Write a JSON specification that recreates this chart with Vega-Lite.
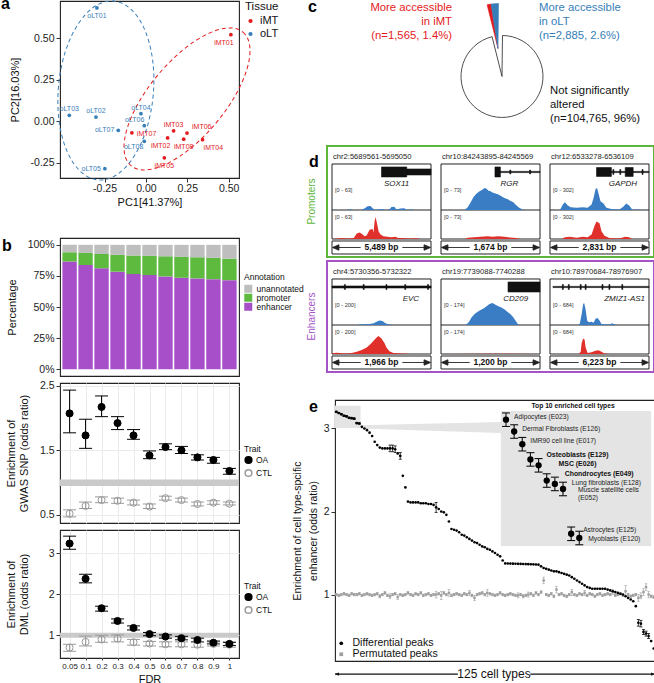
{
"$schema": "https://vega.github.io/schema/vega-lite/v6.json",
"padding": {"top": -5, "left": 0, "right": 0, "bottom": 0},
"background": "white",
"config": {
 "font": "Liberation Sans",
 "locale": {"number": {"decimal": ".", "thousands": ",", "grouping": [3], "currency": ["$", ""], "minus": "-"}},
 "view": {"stroke": "#222", "strokeWidth": 1.1},
 "axis": {"domain": false, "grid": false, "labelColor": "#222", "titleColor": "#111", "tickColor": "#333", "tickSize": 4, "labelFontSize": 10.5, "titleFontSize": 11, "titleFontWeight": "normal", "labelPadding": 2},
 "legend": {"titleFontWeight": "normal", "labelColor": "#111", "titleColor": "#111"},
 "title": {"fontSize": 16, "fontWeight": "bold", "anchor": "start", "frame": "group", "color": "#000", "offset": 0}
},
"datasets": {
 "pca": [
  {"sample":"iMT01","tissue":"iMT","PC1":0.513,"PC2":0.523},
  {"sample":"iMT02","tissue":"iMT","PC1":0.131,"PC2":-0.100},
  {"sample":"iMT03","tissue":"iMT","PC1":0.167,"PC2":-0.057},
  {"sample":"iMT04","tissue":"iMT","PC1":0.342,"PC2":-0.111},
  {"sample":"iMT05","tissue":"iMT","PC1":0.111,"PC2":-0.220},
  {"sample":"iMT06","tissue":"iMT","PC1":0.248,"PC2":-0.071},
  {"sample":"iMT07","tissue":"iMT","PC1":-0.085,"PC2":-0.069},
  {"sample":"iMT08","tissue":"iMT","PC1":0.228,"PC2":-0.108},
  {"sample":"oLT01","tissue":"oLT","PC1":-0.296,"PC2":0.684},
  {"sample":"oLT02","tissue":"oLT","PC1":-0.302,"PC2":0.026},
  {"sample":"oLT03","tissue":"oLT","PC1":-0.463,"PC2":0.036},
  {"sample":"oLT04","tissue":"oLT","PC1":-0.030,"PC2":0.046},
  {"sample":"oLT05","tissue":"oLT","PC1":-0.248,"PC2":-0.286},
  {"sample":"oLT06","tissue":"oLT","PC1":-0.010,"PC2":-0.026},
  {"sample":"oLT07","tissue":"oLT","PC1":-0.167,"PC2":-0.054},
  {"sample":"oLT08","tissue":"oLT","PC1":-0.010,"PC2":-0.121}
 ],
 "ellipses": [{"tissue":"oLT","PC1":-0.242,"PC2":0.186},{"tissue":"iMT","PC1":0.248,"PC2":0.135}],
 "anno": [
  {"fdr":"0.05","annotation":"enhancer","frac":0.865},{"fdr":"0.05","annotation":"promoter","frac":0.076},{"fdr":"0.05","annotation":"unannotated","frac":0.059},
  {"fdr":"0.1","annotation":"enhancer","frac":0.838},{"fdr":"0.1","annotation":"promoter","frac":0.097},{"fdr":"0.1","annotation":"unannotated","frac":0.065},
  {"fdr":"0.2","annotation":"enhancer","frac":0.811},{"fdr":"0.2","annotation":"promoter","frac":0.116},{"fdr":"0.2","annotation":"unannotated","frac":0.073},
  {"fdr":"0.3","annotation":"enhancer","frac":0.784},{"fdr":"0.3","annotation":"promoter","frac":0.135},{"fdr":"0.3","annotation":"unannotated","frac":0.081},
  {"fdr":"0.4","annotation":"enhancer","frac":0.765},{"fdr":"0.4","annotation":"promoter","frac":0.149},{"fdr":"0.4","annotation":"unannotated","frac":0.086},
  {"fdr":"0.5","annotation":"enhancer","frac":0.757},{"fdr":"0.5","annotation":"promoter","frac":0.154},{"fdr":"0.5","annotation":"unannotated","frac":0.089},
  {"fdr":"0.6","annotation":"enhancer","frac":0.746},{"fdr":"0.6","annotation":"promoter","frac":0.162},{"fdr":"0.6","annotation":"unannotated","frac":0.092},
  {"fdr":"0.7","annotation":"enhancer","frac":0.735},{"fdr":"0.7","annotation":"promoter","frac":0.168},{"fdr":"0.7","annotation":"unannotated","frac":0.097},
  {"fdr":"0.8","annotation":"enhancer","frac":0.730},{"fdr":"0.8","annotation":"promoter","frac":0.170},{"fdr":"0.8","annotation":"unannotated","frac":0.100},
  {"fdr":"0.9","annotation":"enhancer","frac":0.724},{"fdr":"0.9","annotation":"promoter","frac":0.171},{"fdr":"0.9","annotation":"unannotated","frac":0.105},
  {"fdr":"1","annotation":"enhancer","frac":0.716},{"fdr":"1","annotation":"promoter","frac":0.173},{"fdr":"1","annotation":"unannotated","frac":0.111}
 ],
 "gwas": [
  {"fdr":"0.05","trait":"CTL","or":0.52,"lo":0.47,"hi":0.58},{"fdr":"0.1","trait":"CTL","or":0.64,"lo":0.60,"hi":0.70},{"fdr":"0.2","trait":"CTL","or":0.73,"lo":0.69,"hi":0.78},{"fdr":"0.3","trait":"CTL","or":0.72,"lo":0.68,"hi":0.76},{"fdr":"0.4","trait":"CTL","or":0.69,"lo":0.655,"hi":0.73},{"fdr":"0.5","trait":"CTL","or":0.63,"lo":0.60,"hi":0.67},{"fdr":"0.6","trait":"CTL","or":0.76,"lo":0.73,"hi":0.79},{"fdr":"0.7","trait":"CTL","or":0.73,"lo":0.70,"hi":0.76},{"fdr":"0.8","trait":"CTL","or":0.67,"lo":0.64,"hi":0.70},{"fdr":"0.9","trait":"CTL","or":0.69,"lo":0.665,"hi":0.72},{"fdr":"1","trait":"CTL","or":0.675,"lo":0.655,"hi":0.70},
  {"fdr":"0.05","trait":"OA","or":2.07,"lo":1.77,"hi":2.43},{"fdr":"0.1","trait":"OA","or":1.73,"lo":1.53,"hi":1.98},{"fdr":"0.2","trait":"OA","or":2.17,"lo":2.02,"hi":2.34},{"fdr":"0.3","trait":"OA","or":1.92,"lo":1.82,"hi":2.02},{"fdr":"0.4","trait":"OA","or":1.73,"lo":1.67,"hi":1.82},{"fdr":"0.5","trait":"OA","or":1.42,"lo":1.37,"hi":1.49},{"fdr":"0.6","trait":"OA","or":1.55,"lo":1.51,"hi":1.60},{"fdr":"0.7","trait":"OA","or":1.50,"lo":1.45,"hi":1.56},{"fdr":"0.8","trait":"OA","or":1.39,"lo":1.35,"hi":1.43},{"fdr":"0.9","trait":"OA","or":1.35,"lo":1.30,"hi":1.39},{"fdr":"1","trait":"OA","or":1.18,"lo":1.13,"hi":1.22}
 ],
 "dml": [
  {"fdr":"0.05","trait":"CTL","or":0.70,"lo":0.61,"hi":0.78},{"fdr":"0.1","trait":"CTL","or":0.84,"lo":0.74,"hi":0.98},{"fdr":"0.2","trait":"CTL","or":0.90,"lo":0.83,"hi":1.00},{"fdr":"0.3","trait":"CTL","or":0.92,"lo":0.84,"hi":1.01},{"fdr":"0.4","trait":"CTL","or":0.83,"lo":0.76,"hi":0.90},{"fdr":"0.5","trait":"CTL","or":0.80,"lo":0.74,"hi":0.85},{"fdr":"0.6","trait":"CTL","or":0.78,"lo":0.72,"hi":0.84},{"fdr":"0.7","trait":"CTL","or":0.78,"lo":0.72,"hi":0.84},{"fdr":"0.8","trait":"CTL","or":0.77,"lo":0.71,"hi":0.83},{"fdr":"0.9","trait":"CTL","or":0.79,"lo":0.74,"hi":0.84},{"fdr":"1","trait":"CTL","or":0.77,"lo":0.71,"hi":0.83},
  {"fdr":"0.05","trait":"OA","or":3.24,"lo":3.10,"hi":3.42},{"fdr":"0.1","trait":"OA","or":2.38,"lo":2.28,"hi":2.49},{"fdr":"0.2","trait":"OA","or":1.66,"lo":1.59,"hi":1.71},{"fdr":"0.3","trait":"OA","or":1.35,"lo":1.30,"hi":1.40},{"fdr":"0.4","trait":"OA","or":1.18,"lo":1.13,"hi":1.23},{"fdr":"0.5","trait":"OA","or":1.03,"lo":0.99,"hi":1.07},{"fdr":"0.6","trait":"OA","or":0.97,"lo":0.93,"hi":1.01},{"fdr":"0.7","trait":"OA","or":0.93,"lo":0.89,"hi":0.975},{"fdr":"0.8","trait":"OA","or":0.885,"lo":0.84,"hi":0.93},{"fdr":"0.9","trait":"OA","or":0.82,"lo":0.79,"hi":0.86},{"fdr":"1","trait":"OA","or":0.79,"lo":0.75,"hi":0.83}
 ],
 "pie": [
  {"status":"iMT","n":1565,"label":"More accessible\nin iMT\n(n=1,565, 1.4%)"},
  {"status":"oLT","n":2885,"label":"More accessible\nin oLT\n(n=2,885, 2.6%)"},
  {"status":"unchanged","n":104765,"label":"Not significantly\naltered\n(n=104,765, 96%)"}
 ],
 "minis": [
  {"row":"Promoters","col":1,"title":"chr2:5689561-5695050","gene":"SOX11","rng":"[0 - 63]","bp":"5,489 bp"},
  {"row":"Promoters","col":2,"title":"chr10:84243895-84245569","gene":"RGR","rng":"[0 - 73]","bp":"1,674 bp"},
  {"row":"Promoters","col":3,"title":"chr12:6533278-6536109","gene":"GAPDH","rng":"[0 - 302]","bp":"2,831 bp"},
  {"row":"Enhancers","col":1,"title":"chr4:5730356-5732322","gene":"EVC","rng":"[0 - 200]","bp":"1,966 bp"},
  {"row":"Enhancers","col":2,"title":"chr19:7739088-7740288","gene":"CD209","rng":"[0 - 174]","bp":"1,200 bp"},
  {"row":"Enhancers","col":3,"title":"chr10:78970684-78976907","gene":"ZMIZ1-AS1","rng":"[0 - 684]","bp":"6,223 bp"}
 ],
 "c_SOX11_oLT": [{"f":0,"v":0},{"f":0.15,"v":0},{"f":0.17,"v":0.03},{"f":0.19,"v":0.03},{"f":0.21,"v":0},{"f":0.3,"v":0},{"f":0.33,"v":0.08},{"f":0.36,"v":0.17},{"f":0.39,"v":0.18},{"f":0.41,"v":0.08},{"f":0.44,"v":0},{"f":0.48,"v":0.03},{"f":0.51,"v":0.05},{"f":0.54,"v":0},{"f":0.58,"v":0.02},{"f":0.6,"v":0.14},{"f":0.63,"v":0.15},{"f":0.65,"v":0.02},{"f":0.69,"v":0.07},{"f":0.73,"v":0.08},{"f":0.76,"v":0},{"f":0.8,"v":0.03},{"f":0.83,"v":0},{"f":1,"v":0}],
 "c_SOX11_iMT": [{"f":0,"v":0},{"f":0.05,"v":0.02},{"f":0.1,"v":0.04},{"f":0.15,"v":0.02},{"f":0.22,"v":0.05},{"f":0.25,"v":0.25},{"f":0.28,"v":0.3},{"f":0.31,"v":0.2},{"f":0.33,"v":0.12},{"f":0.35,"v":0.16},{"f":0.38,"v":0.42},{"f":0.41,"v":0.45},{"f":0.42,"v":0.3},{"f":0.43,"v":0.8},{"f":0.44,"v":1.0},{"f":0.455,"v":0.7},{"f":0.47,"v":0.35},{"f":0.49,"v":0.2},{"f":0.52,"v":0.12},{"f":0.56,"v":0.1},{"f":0.6,"v":0.08},{"f":0.64,"v":0.1},{"f":0.67,"v":0.04},{"f":0.72,"v":0.05},{"f":0.77,"v":0.02},{"f":0.85,"v":0.03},{"f":0.9,"v":0},{"f":1,"v":0}],
 "c_RGR_oLT": [{"f":0,"v":0},{"f":0.24,"v":0},{"f":0.27,"v":0.12},{"f":0.3,"v":0.35},{"f":0.33,"v":0.6},{"f":0.36,"v":0.75},{"f":0.39,"v":0.85},{"f":0.42,"v":0.93},{"f":0.44,"v":1.0},{"f":0.46,"v":0.97},{"f":0.48,"v":0.88},{"f":0.5,"v":0.85},{"f":0.52,"v":0.8},{"f":0.55,"v":0.75},{"f":0.58,"v":0.7},{"f":0.61,"v":0.62},{"f":0.64,"v":0.55},{"f":0.67,"v":0.5},{"f":0.7,"v":0.42},{"f":0.73,"v":0.35},{"f":0.76,"v":0.22},{"f":0.79,"v":0.1},{"f":0.82,"v":0.03},{"f":0.84,"v":0},{"f":1,"v":0}],
 "c_RGR_iMT": [{"f":0,"v":0},{"f":0.24,"v":0},{"f":0.27,"v":0.06},{"f":0.33,"v":0.08},{"f":0.4,"v":0.1},{"f":0.47,"v":0.12},{"f":0.52,"v":0.1},{"f":0.58,"v":0.12},{"f":0.64,"v":0.1},{"f":0.7,"v":0.07},{"f":0.76,"v":0.05},{"f":0.8,"v":0},{"f":1,"v":0}],
 "c_GAPDH_oLT": [{"f":0,"v":0},{"f":0.1,"v":0},{"f":0.13,"v":0.25},{"f":0.15,"v":0.35},{"f":0.18,"v":0.2},{"f":0.21,"v":0.12},{"f":0.27,"v":0.1},{"f":0.33,"v":0.12},{"f":0.38,"v":0.1},{"f":0.42,"v":0.25},{"f":0.44,"v":0.55},{"f":0.46,"v":0.95},{"f":0.475,"v":1.0},{"f":0.49,"v":0.75},{"f":0.51,"v":0.4},{"f":0.54,"v":0.3},{"f":0.57,"v":0.1},{"f":0.62,"v":0.04},{"f":0.7,"v":0.02},{"f":0.74,"v":0.15},{"f":0.77,"v":0.3},{"f":0.8,"v":0.2},{"f":0.83,"v":0.02},{"f":1,"v":0}],
 "c_GAPDH_iMT": [{"f":0,"v":0},{"f":0.12,"v":0},{"f":0.15,"v":0.08},{"f":0.2,"v":0.1},{"f":0.27,"v":0.06},{"f":0.33,"v":0.1},{"f":0.38,"v":0.08},{"f":0.42,"v":0.2},{"f":0.45,"v":0.6},{"f":0.47,"v":0.8},{"f":0.5,"v":0.72},{"f":0.52,"v":0.35},{"f":0.55,"v":0.15},{"f":0.6,"v":0.05},{"f":0.7,"v":0.02},{"f":0.76,"v":0.1},{"f":0.8,"v":0.08},{"f":0.83,"v":0},{"f":1,"v":0}],
 "c_EVC_oLT": [{"f":0,"v":0},{"f":0.25,"v":0},{"f":0.3,"v":0.03},{"f":0.38,"v":0.04},{"f":0.42,"v":0.08},{"f":0.45,"v":0.15},{"f":0.48,"v":0.2},{"f":0.51,"v":0.18},{"f":0.54,"v":0.08},{"f":0.57,"v":0.03},{"f":0.62,"v":0},{"f":1,"v":0}],
 "c_EVC_iMT": [{"f":0,"v":0.03},{"f":0.05,"v":0.06},{"f":0.1,"v":0.03},{"f":0.15,"v":0.02},{"f":0.2,"v":0.05},{"f":0.25,"v":0.1},{"f":0.3,"v":0.18},{"f":0.35,"v":0.3},{"f":0.39,"v":0.45},{"f":0.42,"v":0.6},{"f":0.45,"v":0.75},{"f":0.47,"v":0.82},{"f":0.5,"v":0.7},{"f":0.53,"v":0.5},{"f":0.55,"v":0.3},{"f":0.58,"v":0.12},{"f":0.62,"v":0.05},{"f":0.7,"v":0.02},{"f":0.8,"v":0},{"f":1,"v":0}],
 "c_CD209_oLT": [{"f":0,"v":0},{"f":0.25,"v":0},{"f":0.28,"v":0.12},{"f":0.31,"v":0.35},{"f":0.34,"v":0.5},{"f":0.37,"v":0.6},{"f":0.4,"v":0.68},{"f":0.43,"v":0.75},{"f":0.46,"v":0.85},{"f":0.49,"v":0.95},{"f":0.52,"v":1.0},{"f":0.55,"v":0.92},{"f":0.58,"v":0.85},{"f":0.61,"v":0.8},{"f":0.64,"v":0.72},{"f":0.67,"v":0.6},{"f":0.7,"v":0.5},{"f":0.73,"v":0.35},{"f":0.76,"v":0.15},{"f":0.78,"v":0.02},{"f":0.8,"v":0},{"f":1,"v":0}],
 "c_CD209_iMT": [{"f":0,"v":0},{"f":0.5,"v":0.01},{"f":1,"v":0}],
 "c_ZMIZ1_oLT": [{"f":0,"v":0},{"f":0.28,"v":0},{"f":0.3,"v":0.05},{"f":0.32,"v":0.5},{"f":0.335,"v":0.95},{"f":0.345,"v":1.0},{"f":0.36,"v":0.7},{"f":0.375,"v":0.2},{"f":0.39,"v":0.12},{"f":0.42,"v":0.15},{"f":0.44,"v":0.1},{"f":0.46,"v":0.28},{"f":0.48,"v":0.32},{"f":0.5,"v":0.2},{"f":0.52,"v":0.05},{"f":0.6,"v":0.02},{"f":0.63,"v":0.08},{"f":0.65,"v":0.02},{"f":0.7,"v":0},{"f":1,"v":0}],
 "c_ZMIZ1_iMT": [{"f":0,"v":0},{"f":0.29,"v":0},{"f":0.31,"v":0.1},{"f":0.32,"v":0.5},{"f":0.335,"v":0.7},{"f":0.35,"v":0.65},{"f":0.36,"v":0.3},{"f":0.38,"v":0.05},{"f":0.42,"v":0.08},{"f":0.46,"v":0.15},{"f":0.49,"v":0.17},{"f":0.52,"v":0.1},{"f":0.55,"v":0.02},{"f":0.6,"v":0},{"f":1,"v":0}],
 "top10": [
  {"rank":1,"cell":"Adipocytes (E023)","or":3.2,"lo":3.192,"hi":3.208},
  {"rank":2,"cell":"Dermal Fibroblasts (E126)","or":3.186,"lo":3.178,"hi":3.194},
  {"rank":3,"cell":"IMR90 cell line (E017)","or":3.171,"lo":3.163,"hi":3.179},
  {"rank":4,"cell":"Osteoblasts (E129)","or":3.153,"lo":3.145,"hi":3.161},
  {"rank":5,"cell":"MSC (E026)","or":3.146,"lo":3.138,"hi":3.154},
  {"rank":6,"cell":"Chondrocytes (E049)","or":3.128,"lo":3.12,"hi":3.136},
  {"rank":7,"cell":"Lung fibroblasts (E128)","or":3.124,"lo":3.116,"hi":3.132},
  {"rank":8,"cell":"Muscle satellite cells\n(E052)","or":3.118,"lo":3.11,"hi":3.126},
  {"rank":9,"cell":"Astrocytes (E125)","or":3.065,"lo":3.057,"hi":3.073},
  {"rank":10,"cell":"Myoblasts (E120)","or":3.06,"lo":3.052,"hi":3.068}
 ],
 "diff": [
  {"i":1,"or":3.2,"lo":3.192,"hi":3.208},{"i":2,"or":3.186,"lo":3.178,"hi":3.194},{"i":3,"or":3.171,"lo":3.163,"hi":3.179},{"i":4,"or":3.153,"lo":3.145,"hi":3.161},{"i":5,"or":3.146,"lo":3.138,"hi":3.154},{"i":6,"or":3.128,"lo":3.12,"hi":3.136},{"i":7,"or":3.124,"lo":3.116,"hi":3.132},{"i":8,"or":3.118,"lo":3.11,"hi":3.126},{"i":9,"or":3.065,"lo":3.057,"hi":3.073},{"i":10,"or":3.06,"lo":3.052,"hi":3.068},
  {"i":11,"or":3.02},{"i":12,"or":3.0},{"i":13,"or":2.98},{"i":14,"or":2.95},{"i":15,"or":2.91},{"i":16,"or":2.84},{"i":17,"or":2.8},{"i":18,"or":2.77},{"i":19,"or":2.76},{"i":20,"or":2.76},
  {"i":21,"or":2.76},{"i":22,"or":2.76,"lo":2.72,"hi":2.8},{"i":23,"or":2.76,"lo":2.72,"hi":2.8},{"i":24,"or":2.75,"lo":2.71,"hi":2.79},{"i":25,"or":2.7},{"i":26,"or":2.67,"lo":2.63,"hi":2.71},{"i":27,"or":2.43},{"i":28,"or":2.29},{"i":29,"or":2.12},{"i":30,"or":2.11},
  {"i":31,"or":2.11},{"i":32,"or":2.11},{"i":33,"or":2.11},{"i":34,"or":2.1},{"i":35,"or":2.1},{"i":36,"or":2.1},{"i":37,"or":2.09},{"i":38,"or":2.09},{"i":39,"or":2.08},{"i":40,"or":2.05,"lo":1.99,"hi":2.11},
  {"i":41,"or":2.03},{"i":42,"or":2.0},{"i":43,"or":1.99},{"i":44,"or":1.96},{"i":45,"or":1.88},{"i":46,"or":1.79},{"i":47,"or":1.78},{"i":48,"or":1.77},{"i":49,"or":1.75},{"i":50,"or":1.72},
  {"i":51,"or":1.71},{"i":52,"or":1.69},{"i":53,"or":1.67},{"i":54,"or":1.65},{"i":55,"or":1.63},{"i":56,"or":1.62},{"i":57,"or":1.6},{"i":58,"or":1.58},{"i":59,"or":1.57},{"i":60,"or":1.55},
  {"i":61,"or":1.54},{"i":62,"or":1.52},{"i":63,"or":1.5},{"i":64,"or":1.48},{"i":65,"or":1.46},{"i":66,"or":1.41},{"i":67,"or":1.375},{"i":68,"or":1.374},{"i":69,"or":1.373},{"i":70,"or":1.372},
  {"i":71,"or":1.371},{"i":72,"or":1.37},{"i":73,"or":1.369},{"i":74,"or":1.368},{"i":75,"or":1.367},{"i":76,"or":1.366},{"i":77,"or":1.365},{"i":78,"or":1.364},{"i":79,"or":1.362},{"i":80,"or":1.36},
  {"i":81,"or":1.34},{"i":82,"or":1.32},{"i":83,"or":1.31},{"i":84,"or":1.3},{"i":85,"or":1.29},{"i":86,"or":1.28},{"i":87,"or":1.28},{"i":88,"or":1.27},{"i":89,"or":1.26},{"i":90,"or":1.25},
  {"i":91,"or":1.24},{"i":92,"or":1.23},{"i":93,"or":1.21},{"i":94,"or":1.19},{"i":95,"or":1.17},{"i":96,"or":1.15},{"i":97,"or":1.13},{"i":98,"or":1.11},{"i":99,"or":1.09},{"i":100,"or":1.08},
  {"i":101,"or":1.07},{"i":102,"or":1.07},{"i":103,"or":1.07},{"i":104,"or":1.07},{"i":105,"or":1.07},{"i":106,"or":1.07},{"i":107,"or":1.06},{"i":108,"or":1.05},{"i":109,"or":1.04},{"i":110,"or":1.03},
  {"i":111,"or":1.02},{"i":112,"or":1.01},{"i":113,"or":1.0},{"i":114,"or":0.98},{"i":115,"or":0.96},{"i":116,"or":0.94},{"i":117,"or":0.92},{"i":118,"or":0.86},{"i":119,"or":0.66,"lo":0.62,"hi":0.7},{"i":120,"or":0.65,"lo":0.61,"hi":0.69},
  {"i":121,"or":0.55,"lo":0.52,"hi":0.58},{"i":122,"or":0.53,"lo":0.5,"hi":0.56},{"i":123,"or":0.5,"lo":0.47,"hi":0.53},{"i":124,"or":0.44},{"i":125,"or":0.35}
 ],
 "perm": [
  {"i":1,"or":1.0,"lo":0.985,"hi":1.015},{"i":2,"or":0.99,"lo":0.975,"hi":1.005},{"i":3,"or":1.0,"lo":0.985,"hi":1.015},{"i":4,"or":1.01,"lo":0.995,"hi":1.025},{"i":5,"or":1.0,"lo":0.985,"hi":1.015},{"i":6,"or":0.99,"lo":0.975,"hi":1.005},{"i":7,"or":1.01,"lo":0.995,"hi":1.025},{"i":8,"or":1.0,"lo":0.985,"hi":1.015},{"i":9,"or":1.0,"lo":0.985,"hi":1.015},{"i":10,"or":1.01,"lo":0.995,"hi":1.025},
  {"i":11,"or":0.99,"lo":0.975,"hi":1.005},{"i":12,"or":1.0,"lo":0.985,"hi":1.015},{"i":13,"or":1.01,"lo":0.995,"hi":1.025},{"i":14,"or":1.0,"lo":0.985,"hi":1.015},{"i":15,"or":0.99,"lo":0.975,"hi":1.005},{"i":16,"or":1.0,"lo":0.985,"hi":1.015},{"i":17,"or":1.01,"lo":0.995,"hi":1.025},{"i":18,"or":0.98,"lo":0.96,"hi":1.0},{"i":19,"or":1.0,"lo":0.985,"hi":1.015},{"i":20,"or":1.02,"lo":1.005,"hi":1.035},
  {"i":21,"or":0.99,"lo":0.975,"hi":1.005},{"i":22,"or":0.98,"lo":0.95,"hi":1.01},{"i":23,"or":1.0,"lo":0.985,"hi":1.015},{"i":24,"or":1.01,"lo":0.995,"hi":1.025},{"i":25,"or":0.97,"lo":0.94,"hi":1.0},{"i":26,"or":1.0,"lo":0.985,"hi":1.015},{"i":27,"or":0.99,"lo":0.975,"hi":1.005},{"i":28,"or":1.0,"lo":0.985,"hi":1.015},{"i":29,"or":1.02,"lo":1.005,"hi":1.035},{"i":30,"or":1.0,"lo":0.985,"hi":1.015},
  {"i":31,"or":0.99,"lo":0.975,"hi":1.005},{"i":32,"or":1.01,"lo":0.995,"hi":1.025},{"i":33,"or":1.0,"lo":0.985,"hi":1.015},{"i":34,"or":1.02,"lo":1.005,"hi":1.035},{"i":35,"or":0.99,"lo":0.975,"hi":1.005},{"i":36,"or":1.0,"lo":0.985,"hi":1.015},{"i":37,"or":1.01,"lo":0.995,"hi":1.025},{"i":38,"or":0.99,"lo":0.975,"hi":1.005},{"i":39,"or":1.0,"lo":0.985,"hi":1.015},{"i":40,"or":1.0,"lo":0.96,"hi":1.04},
  {"i":41,"or":1.01,"lo":0.995,"hi":1.025},{"i":42,"or":0.99,"lo":0.94,"hi":1.04},{"i":43,"or":1.02,"lo":1.005,"hi":1.035},{"i":44,"or":1.0,"lo":0.985,"hi":1.015},{"i":45,"or":1.02,"lo":0.98,"hi":1.06},{"i":46,"or":0.99,"lo":0.975,"hi":1.005},{"i":47,"or":1.0,"lo":0.985,"hi":1.015},{"i":48,"or":1.01,"lo":0.995,"hi":1.025},{"i":49,"or":1.0,"lo":0.985,"hi":1.015},{"i":50,"or":0.99,"lo":0.975,"hi":1.005},
  {"i":51,"or":1.01,"lo":0.995,"hi":1.025},{"i":52,"or":1.0,"lo":0.985,"hi":1.015},{"i":53,"or":1.02,"lo":0.99,"hi":1.05},{"i":54,"or":0.99,"lo":0.975,"hi":1.005},{"i":55,"or":0.96,"lo":0.93,"hi":0.99},{"i":56,"or":1.0,"lo":0.985,"hi":1.015},{"i":57,"or":1.01,"lo":0.995,"hi":1.025},{"i":58,"or":1.02,"lo":1.005,"hi":1.035},{"i":59,"or":1.0,"lo":0.985,"hi":1.015},{"i":60,"or":1.02,"lo":0.98,"hi":1.06},
  {"i":61,"or":1.01,"lo":0.995,"hi":1.025},{"i":62,"or":1.0,"lo":0.985,"hi":1.015},{"i":63,"or":0.99,"lo":0.975,"hi":1.005},{"i":64,"or":1.0,"lo":0.985,"hi":1.015},{"i":65,"or":1.02,"lo":1.005,"hi":1.035},{"i":66,"or":1.0,"lo":0.985,"hi":1.015},{"i":67,"or":0.99,"lo":0.975,"hi":1.005},{"i":68,"or":1.0,"lo":0.985,"hi":1.015},{"i":69,"or":1.01,"lo":0.995,"hi":1.025},{"i":70,"or":1.0,"lo":0.985,"hi":1.015},
  {"i":71,"or":0.99,"lo":0.975,"hi":1.005},{"i":72,"or":0.99,"lo":0.96,"hi":1.02},{"i":73,"or":1.0,"lo":0.985,"hi":1.015},{"i":74,"or":0.98,"lo":0.96,"hi":1.0},{"i":75,"or":0.99,"lo":0.975,"hi":1.005},{"i":76,"or":1.0,"lo":0.97,"hi":1.03},{"i":77,"or":1.01,"lo":0.995,"hi":1.025},{"i":78,"or":0.99,"lo":0.975,"hi":1.005},{"i":79,"or":1.02,"lo":1.005,"hi":1.035},{"i":80,"or":1.0,"lo":0.985,"hi":1.015},
  {"i":81,"or":1.03,"lo":1.015,"hi":1.045},{"i":82,"or":1.17,"lo":1.13,"hi":1.21},{"i":83,"or":1.0,"lo":0.985,"hi":1.015},{"i":84,"or":0.99,"lo":0.975,"hi":1.005},{"i":85,"or":1.01,"lo":0.995,"hi":1.025},{"i":86,"or":0.98,"lo":0.965,"hi":0.995},{"i":87,"or":1.06,"lo":1.02,"hi":1.1},{"i":88,"or":1.0,"lo":0.985,"hi":1.015},{"i":89,"or":1.01,"lo":0.995,"hi":1.025},{"i":90,"or":0.99,"lo":0.975,"hi":1.005},
  {"i":91,"or":0.98,"lo":0.965,"hi":0.995},{"i":92,"or":1.0,"lo":0.985,"hi":1.015},{"i":93,"or":1.03,"lo":0.99,"hi":1.06},{"i":94,"or":1.0,"lo":0.985,"hi":1.015},{"i":95,"or":0.99,"lo":0.975,"hi":1.005},{"i":96,"or":1.01,"lo":0.995,"hi":1.025},{"i":97,"or":1.0,"lo":0.985,"hi":1.015},{"i":98,"or":1.02,"lo":0.99,"hi":1.05},{"i":99,"or":0.99,"lo":0.975,"hi":1.005},{"i":100,"or":1.01,"lo":0.995,"hi":1.025},
  {"i":101,"or":1.0,"lo":0.985,"hi":1.015},{"i":102,"or":0.98,"lo":0.965,"hi":0.995},{"i":103,"or":1.0,"lo":0.985,"hi":1.015},{"i":104,"or":1.01,"lo":0.995,"hi":1.025},{"i":105,"or":0.99,"lo":0.975,"hi":1.005},{"i":106,"or":1.0,"lo":0.985,"hi":1.015},{"i":107,"or":1.01,"lo":0.995,"hi":1.025},{"i":108,"or":1.0,"lo":0.985,"hi":1.015},{"i":109,"or":1.03,"lo":1.0,"hi":1.06},{"i":110,"or":0.99,"lo":0.975,"hi":1.005},
  {"i":111,"or":1.0,"lo":0.985,"hi":1.015},{"i":112,"or":1.01,"lo":0.995,"hi":1.025},{"i":113,"or":0.99,"lo":0.975,"hi":1.005},{"i":114,"or":1.04,"lo":0.99,"hi":1.11},{"i":115,"or":1.0,"lo":0.985,"hi":1.015},{"i":116,"or":0.98,"lo":0.965,"hi":0.995},{"i":117,"or":0.99,"lo":0.975,"hi":1.005},{"i":118,"or":1.0,"lo":0.985,"hi":1.015},{"i":119,"or":0.96,"lo":0.92,"hi":1.0},{"i":120,"or":0.98,"lo":0.95,"hi":1.02},
  {"i":121,"or":1.03,"lo":0.99,"hi":1.07},{"i":122,"or":1.09,"lo":1.05,"hi":1.13},{"i":123,"or":1.0,"lo":0.96,"hi":1.04},{"i":124,"or":0.98,"lo":0.965,"hi":0.995},{"i":125,"or":0.97,"lo":0.955,"hi":0.985}
 ]
},
"spacing": -14,
"resolve": {"scale": {"color": "independent", "fill": "independent", "stroke": "independent", "shape": "independent"}, "legend": {"color": "independent", "fill": "independent", "stroke": "independent", "shape": "independent"}},
"hconcat": [
 {
  "spacing": 28,
  "resolve": {"scale": {"color": "independent", "fill": "independent", "stroke": "independent", "shape": "independent"}, "legend": {"color": "independent", "fill": "independent", "stroke": "independent", "shape": "independent"}},
  "vconcat": [
   {
    "width": 179, "height": 177,
    "title": {"text": "a", "dx": -59, "dy": 17},
    "layer": [
     {"data": {"name": "ellipses"}, "transform": [{"filter": "datum.tissue == 'oLT'"}],
      "mark": {"type": "point", "shape": "M0.53,0C0.53,0.5523,0.2927,1,0,1C-0.2927,1,-0.53,0.5523,-0.53,0C-0.53,-0.5523,-0.2927,-1,0,-1C0.2927,-1,0.53,-0.5523,0.53,0Z", "size": 32200, "angle": 5, "filled": false, "stroke": "#377EB8", "strokeWidth": 1, "strokeDash": [4, 3], "opacity": 1},
      "encoding": {
       "x": {"field": "PC1", "type": "quantitative", "scale": {"domain": [-0.519, 0.562], "nice": false, "zero": false}, "axis": {"values": [-0.25, 0, 0.25, 0.5], "format": ".2f", "title": "PC1[41.37%]", "titlePadding": 3, "labelPadding": 1}},
       "y": {"field": "PC2", "type": "quantitative", "scale": {"domain": [-0.342, 0.726], "nice": false, "zero": false}, "axis": {"values": [-0.25, 0, 0.25, 0.5], "format": ".2f", "title": "PC2[16.03%]", "minExtent": 27, "maxExtent": 27, "titlePadding": 13}}
      }},
     {"data": {"name": "ellipses"}, "transform": [{"filter": "datum.tissue == 'iMT'"}],
      "mark": {"type": "point", "shape": "M1,0C1,0.2391,0.5523,0.433,0,0.433C-0.5523,0.433,-1,0.2391,-1,0C-1,-0.2391,-0.5523,-0.433,0,-0.433C0.5523,-0.433,1,-0.2391,1,0Z", "size": 30350, "angle": 310, "filled": false, "stroke": "#E41A1C", "strokeWidth": 1, "strokeDash": [4, 3], "opacity": 1},
      "encoding": {"x": {"field": "PC1", "type": "quantitative"}, "y": {"field": "PC2", "type": "quantitative"}}},
     {"data": {"name": "pca"}, "mark": {"type": "point", "filled": true, "size": 14, "opacity": 1},
      "encoding": {"x": {"field": "PC1", "type": "quantitative"}, "y": {"field": "PC2", "type": "quantitative"},
       "color": {"field": "tissue", "type": "nominal", "scale": {"domain": ["iMT", "oLT"], "range": ["#E41A1C", "#377EB8"]}, "legend": {"title": "Tissue", "orient": "right", "offset": 6, "titleFontSize": 11.5, "labelFontSize": 11, "symbolType": "circle", "symbolSize": 18, "rowPadding": 1, "titlePadding": 3}}}},
     {"data": {"name": "pca"}, "transform": [{"filter": {"field": "sample", "oneOf": ["oLT03", "oLT02", "oLT04", "iMT03"]}}], "mark": {"type": "text", "fontSize": 7, "dy": -6}, "encoding": {"x": {"field": "PC1", "type": "quantitative"}, "y": {"field": "PC2", "type": "quantitative"}, "text": {"field": "sample"}, "color": {"field": "tissue", "type": "nominal"}}},
     {"data": {"name": "pca"}, "transform": [{"filter": {"field": "sample", "oneOf": ["oLT01", "iMT08", "iMT05"]}}], "mark": {"type": "text", "fontSize": 7, "dy": 8}, "encoding": {"x": {"field": "PC1", "type": "quantitative"}, "y": {"field": "PC2", "type": "quantitative"}, "text": {"field": "sample"}, "color": {"field": "tissue", "type": "nominal"}}},
     {"data": {"name": "pca"}, "transform": [{"filter": {"field": "sample", "oneOf": ["iMT01", "iMT02"]}}], "mark": {"type": "text", "fontSize": 7, "dx": -7, "dy": 8}, "encoding": {"x": {"field": "PC1", "type": "quantitative"}, "y": {"field": "PC2", "type": "quantitative"}, "text": {"field": "sample"}, "color": {"field": "tissue", "type": "nominal"}}},
     {"data": {"name": "pca"}, "transform": [{"filter": {"field": "sample", "oneOf": ["iMT07"]}}], "mark": {"type": "text", "fontSize": 7, "align": "left", "dx": 5, "dy": 1}, "encoding": {"x": {"field": "PC1", "type": "quantitative"}, "y": {"field": "PC2", "type": "quantitative"}, "text": {"field": "sample"}, "color": {"field": "tissue", "type": "nominal"}}},
     {"data": {"name": "pca"}, "transform": [{"filter": {"field": "sample", "oneOf": ["iMT06"]}}], "mark": {"type": "text", "fontSize": 7, "align": "left", "dx": 5, "dy": -6}, "encoding": {"x": {"field": "PC1", "type": "quantitative"}, "y": {"field": "PC2", "type": "quantitative"}, "text": {"field": "sample"}, "color": {"field": "tissue", "type": "nominal"}}},
     {"data": {"name": "pca"}, "transform": [{"filter": {"field": "sample", "oneOf": ["iMT04"]}}], "mark": {"type": "text", "fontSize": 7, "align": "left", "dx": 1, "dy": 8}, "encoding": {"x": {"field": "PC1", "type": "quantitative"}, "y": {"field": "PC2", "type": "quantitative"}, "text": {"field": "sample"}, "color": {"field": "tissue", "type": "nominal"}}},
     {"data": {"name": "pca"}, "transform": [{"filter": {"field": "sample", "oneOf": ["oLT07", "oLT05"]}}], "mark": {"type": "text", "fontSize": 7, "align": "right", "dx": -4, "dy": 0}, "encoding": {"x": {"field": "PC1", "type": "quantitative"}, "y": {"field": "PC2", "type": "quantitative"}, "text": {"field": "sample"}, "color": {"field": "tissue", "type": "nominal"}}},
     {"data": {"name": "pca"}, "transform": [{"filter": {"field": "sample", "oneOf": ["oLT06"]}}], "mark": {"type": "text", "fontSize": 7, "align": "right", "dx": 0, "dy": -6}, "encoding": {"x": {"field": "PC1", "type": "quantitative"}, "y": {"field": "PC2", "type": "quantitative"}, "text": {"field": "sample"}, "color": {"field": "tissue", "type": "nominal"}}},
     {"data": {"name": "pca"}, "transform": [{"filter": {"field": "sample", "oneOf": ["oLT08"]}}], "mark": {"type": "text", "fontSize": 7, "align": "right", "dx": -1, "dy": 6}, "encoding": {"x": {"field": "PC1", "type": "quantitative"}, "y": {"field": "PC2", "type": "quantitative"}, "text": {"field": "sample"}, "color": {"field": "tissue", "type": "nominal"}}}
    ]
   },
   {
    "spacing": 7,
    "bounds": "flush",
    "resolve": {"scale": {"color": "independent", "fill": "independent", "stroke": "independent", "shape": "independent"}, "legend": {"color": "independent", "fill": "independent", "stroke": "independent", "shape": "independent"}},
    "vconcat": [
     {
      "width": 179, "height": 138,
      "title": {"text": "b", "dx": -58, "dy": 20},
      "data": {"name": "anno"},
      "mark": {"type": "bar"},
      "encoding": {
       "x": {"field": "fdr", "type": "ordinal", "sort": null, "scale": {"paddingInner": 0.1, "paddingOuter": 0.15}, "axis": {"title": null, "labels": false, "ticks": false}},
       "y": {"field": "frac", "type": "quantitative", "stack": "zero", "scale": {"domain": [-0.055, 1.055], "nice": false, "zero": false}, "axis": {"values": [0, 0.25, 0.5, 0.75, 1], "format": ".0%", "title": "Percentage", "minExtent": 30, "maxExtent": 30, "titlePadding": 13}},
       "color": {"field": "annotation", "type": "nominal", "scale": {"domain": ["unannotated", "promoter", "enhancer"], "range": ["#BEBEBE", "#5DBA3F", "#A64FC8"]}, "legend": {"title": "Annotation", "orient": "none", "legendX": 184, "legendY": 35, "titleFontSize": 8.5, "labelFontSize": 8.5, "symbolType": "square", "symbolSize": 64, "symbolStrokeWidth": 0, "rowPadding": 0, "titlePadding": 3, "labelOffset": 4}},
       "order": {"field": "annotation", "sort": "ascending"}
      }
     },
     {
      "width": 179, "height": 140,
      "layer": [
       {"data": {"values": [{}]}, "mark": {"type": "rule", "color": "#CACACA", "strokeWidth": 6.5}, "encoding": {"y": {"datum": 1, "type": "quantitative"}}},
       {"data": {"name": "gwas"}, "mark": {"type": "rule", "strokeWidth": 1},
        "encoding": {
         "x": {"field": "fdr", "type": "ordinal", "sort": null, "scale": {"type": "point", "padding": 0.6}, "axis": {"title": null, "labels": false, "ticks": false, "grid": true, "gridColor": "#EBEBEB"}},
         "y": {"field": "lo", "type": "quantitative", "scale": {"domain": [0.376, 2.54], "nice": false, "zero": false}, "axis": {"values": [0.5, 1, 1.5, 2, 2.5], "format": ".1f", "title": ["Enrichment of", "GWAS SNP (odds ratio)"], "titleLineHeight": 12.5, "grid": true, "gridColor": "#EBEBEB", "minExtent": 30, "maxExtent": 30, "titlePadding": 1}},
         "y2": {"field": "hi"},
         "color": {"field": "trait", "type": "nominal", "scale": {"domain": ["CTL", "OA"], "range": ["#9A9A9A", "#000000"]}, "legend": null}}},
       {"data": {"name": "gwas"}, "mark": {"type": "tick", "size": 13, "thickness": 1, "orient": "horizontal", "opacity": 1},
        "encoding": {"x": {"field": "fdr", "type": "ordinal", "sort": null}, "y": {"field": "lo", "type": "quantitative"}, "color": {"field": "trait", "type": "nominal", "legend": null}}},
       {"data": {"name": "gwas"}, "mark": {"type": "tick", "size": 13, "thickness": 1, "orient": "horizontal", "opacity": 1},
        "encoding": {"x": {"field": "fdr", "type": "ordinal", "sort": null}, "y": {"field": "hi", "type": "quantitative"}, "color": {"field": "trait", "type": "nominal", "legend": null}}},
       {"data": {"name": "gwas"}, "mark": {"type": "point", "size": 50, "strokeWidth": 1, "opacity": 1},
        "encoding": {"x": {"field": "fdr", "type": "ordinal", "sort": null}, "y": {"field": "or", "type": "quantitative"},
         "fill": {"field": "trait", "type": "nominal", "scale": {"domain": ["OA", "CTL"], "range": ["#000000", "transparent"]}, "legend": {"title": "Trait", "orient": "none", "legendX": 184, "legendY": 62, "titleFontSize": 8.5, "labelFontSize": 8.5, "symbolSize": 45, "rowPadding": 0, "titlePadding": 2, "labelOffset": 3}},
         "stroke": {"field": "trait", "type": "nominal", "scale": {"domain": ["OA", "CTL"], "range": ["#000000", "#9A9A9A"]}, "legend": {"title": "Trait", "orient": "none", "legendX": 184, "legendY": 62, "titleFontSize": 8.5, "labelFontSize": 8.5, "symbolSize": 45, "rowPadding": 0, "titlePadding": 2, "labelOffset": 3}}}}
      ]
     },
     {
      "width": 179, "height": 128,
      "layer": [
       {"data": {"values": [{}]}, "mark": {"type": "rule", "color": "#CACACA", "strokeWidth": 5}, "encoding": {"y": {"datum": 1, "type": "quantitative"}}},
       {"data": {"name": "dml"}, "mark": {"type": "rule", "strokeWidth": 1},
        "encoding": {
         "x": {"field": "fdr", "type": "ordinal", "sort": null, "scale": {"type": "point", "padding": 0.6}, "axis": {"title": "FDR", "labelFontSize": 8, "labelAngle": 0, "tickSize": 2, "labelPadding": 2, "titlePadding": 3, "grid": true, "gridColor": "#EBEBEB", "titleFontSize": 11}},
         "y": {"field": "lo", "type": "quantitative", "scale": {"domain": [0.446, 3.57], "nice": false, "zero": false}, "axis": {"values": [1, 2, 3], "format": "d", "title": ["Enrichment of", "DML (odds ratio)"], "titleLineHeight": 12.5, "grid": true, "gridColor": "#EBEBEB", "minExtent": 30, "maxExtent": 30, "titlePadding": 1}},
         "y2": {"field": "hi"},
         "color": {"field": "trait", "type": "nominal", "scale": {"domain": ["CTL", "OA"], "range": ["#9A9A9A", "#000000"]}, "legend": null}}},
       {"data": {"name": "dml"}, "mark": {"type": "tick", "size": 13, "thickness": 1, "orient": "horizontal", "opacity": 1},
        "encoding": {"x": {"field": "fdr", "type": "ordinal", "sort": null}, "y": {"field": "lo", "type": "quantitative"}, "color": {"field": "trait", "type": "nominal", "legend": null}}},
       {"data": {"name": "dml"}, "mark": {"type": "tick", "size": 13, "thickness": 1, "orient": "horizontal", "opacity": 1},
        "encoding": {"x": {"field": "fdr", "type": "ordinal", "sort": null}, "y": {"field": "hi", "type": "quantitative"}, "color": {"field": "trait", "type": "nominal", "legend": null}}},
       {"data": {"name": "dml"}, "mark": {"type": "point", "size": 50, "strokeWidth": 1, "opacity": 1},
        "encoding": {"x": {"field": "fdr", "type": "ordinal", "sort": null}, "y": {"field": "or", "type": "quantitative"},
         "fill": {"field": "trait", "type": "nominal", "scale": {"domain": ["OA", "CTL"], "range": ["#000000", "transparent"]}, "legend": {"title": "Trait", "orient": "none", "legendX": 184, "legendY": 52, "titleFontSize": 8.5, "labelFontSize": 8.5, "symbolSize": 45, "rowPadding": 0, "titlePadding": 2, "labelOffset": 3}},
         "stroke": {"field": "trait", "type": "nominal", "scale": {"domain": ["OA", "CTL"], "range": ["#000000", "#9A9A9A"]}, "legend": {"title": "Trait", "orient": "none", "legendX": 184, "legendY": 52, "titleFontSize": 8.5, "labelFontSize": 8.5, "symbolSize": 45, "rowPadding": 0, "titlePadding": 2, "labelOffset": 3}}}}
      ]
     }
    ]
   }
  ]
 },
 {
  "spacing": 28,
  "bounds": "flush",
  "resolve": {"scale": {"color": "independent", "fill": "independent", "stroke": "independent", "shape": "independent"}, "legend": {"color": "independent", "fill": "independent", "stroke": "independent", "shape": "independent"}},
  "vconcat": [
   {
    "width": 334, "height": 117,
    "title": {"text": "c", "dx": -27, "dy": 18},
    "view": {"stroke": null},
    "data": {"name": "pie"},
    "transform": [{"stack": "n", "groupby": [], "sort": [{"field": "status", "order": "ascending"}], "as": ["t0", "t1"], "offset": "normalize"}],
    "layer": [
     {"transform": [{"filter": "datum.status == 'unchanged'"}],
      "mark": {"type": "arc", "outerRadius": 41, "fill": "white", "stroke": "#222", "strokeWidth": 0.8},
      "encoding": {
       "theta": {"field": "t0", "type": "quantitative", "scale": {"domain": [0, 1], "range": [-0.2443, 6.0389]}},
       "theta2": {"field": "t1"},
       "x": {"datum": 0.5, "type": "quantitative", "scale": {"domain": [0, 1], "nice": false, "zero": false}, "axis": null},
       "y": {"datum": 0.355, "type": "quantitative", "scale": {"domain": [0, 1], "nice": false, "zero": false}, "axis": null}}},
     {"transform": [{"filter": "datum.status != 'unchanged'"}],
      "mark": {"type": "arc", "outerRadius": 45, "strokeWidth": 0.6},
      "encoding": {
       "theta": {"field": "t0", "type": "quantitative"},
       "theta2": {"field": "t1"},
       "x": {"datum": 0.488, "type": "quantitative"},
       "y": {"datum": 0.594, "type": "quantitative"},
       "fill": {"field": "status", "type": "nominal", "scale": {"domain": ["iMT", "oLT"], "range": ["#E41A1C", "#377EB8"]}, "legend": null},
       "stroke": {"field": "status", "type": "nominal", "scale": {"domain": ["iMT", "oLT"], "range": ["#E41A1C", "#377EB8"]}, "legend": null}}},
     {"transform": [{"filter": "datum.status == 'iMT'"}],
      "mark": {"type": "text", "align": "right", "baseline": "top", "fontSize": 11.3, "lineHeight": 14, "lineBreak": "\n", "color": "#E41A1C"},
      "encoding": {"x": {"datum": 0.3503, "type": "quantitative"}, "y": {"datum": 0.988, "type": "quantitative"}, "text": {"field": "label"}}},
     {"transform": [{"filter": "datum.status == 'oLT'"}],
      "mark": {"type": "text", "align": "left", "baseline": "top", "fontSize": 11.3, "lineHeight": 14, "lineBreak": "\n", "color": "#377EB8"},
      "encoding": {"x": {"datum": 0.611, "type": "quantitative"}, "y": {"datum": 0.988, "type": "quantitative"}, "text": {"field": "label"}}},
     {"transform": [{"filter": "datum.status == 'unchanged'"}],
      "mark": {"type": "text", "align": "left", "baseline": "top", "fontSize": 11.3, "lineHeight": 14, "lineBreak": "\n", "color": "#111"},
      "encoding": {"x": {"datum": 0.6437, "type": "quantitative"}, "y": {"datum": 0.282, "type": "quantitative"}, "text": {"field": "label"}}}
    ]
   },
   {
    "width": 320, "height": 226,
    "title": {"text": "d", "dx": -26, "dy": 32},
    "view": {"stroke": null},
    "resolve": {"scale": {"x": "independent", "y": "independent"}},
    "layer": [
     {
      "data": {"name": "minis"},
      "layer": [
       {"transform": [{"filter": "datum.col == 2"}],
        "mark": {"type": "point", "shape": "M-1,-0.3394H1V0.3394H-1Z", "size": 106929, "filled": false, "strokeWidth": 2, "opacity": 1},
        "encoding": {
         "x": {"field": "col", "type": "nominal", "scale": {"type": "band", "domain": [1, 2, 3], "range": [-3, 314], "paddingInner": 0.0917, "paddingOuter": 0}, "axis": null},
         "y": {"field": "row", "type": "nominal", "scale": {"type": "band", "domain": ["Promoters", "Enhancers"], "range": [0, 226], "paddingInner": 0.0348, "paddingOuter": 0}, "axis": null},
         "stroke": {"field": "row", "type": "nominal", "scale": {"domain": ["Promoters", "Enhancers"], "range": ["#5DB63C", "#A653C6"]}, "legend": null}}},
       {"mark": {"type": "point", "shape": "M-1,-0.7576H1V0.7576H-1Z", "size": 9801, "filled": false, "stroke": "#222", "strokeWidth": 1, "opacity": 1},
        "encoding": {"x": {"field": "col", "type": "nominal"}, "y": {"field": "row", "type": "nominal"}}},
       {"mark": {"type": "point", "shape": "M-1,0H1", "size": 9801, "filled": false, "stroke": "#222", "strokeWidth": 1, "opacity": 1},
        "encoding": {"x": {"field": "col", "type": "nominal"}, "y": {"field": "row", "type": "nominal", "bandPosition": 0.5766}}},
       {"mark": {"type": "point", "shape": "M-1,-0.1313H1V0.1313H-1Z", "size": 9801, "filled": false, "stroke": "#222", "strokeWidth": 1, "opacity": 1},
        "encoding": {"x": {"field": "col", "type": "nominal"}, "y": {"field": "row", "type": "nominal", "bandPosition": 0.9144}}},
       {"mark": {"type": "point", "shape": "M-0.97,0H-0.42M0.42,0H0.97M-0.99,0L-0.86,-0.055L-0.86,0.055ZM0.99,0L0.86,-0.055L0.86,0.055Z", "size": 9801, "filled": true, "color": "#222", "stroke": "#222", "strokeWidth": 0.9, "opacity": 1},
        "encoding": {"x": {"field": "col", "type": "nominal"}, "y": {"field": "row", "type": "nominal", "bandPosition": 0.9144}}}
      ]
     },
     {"data": {"name": "c_SOX11_oLT"}, "mark": {"type": "area", "color": "#3B7DC4"}, "encoding": {"x": {"field": "f", "type": "quantitative", "scale": {"domain": [0, 1], "range": [-3, 96]}, "axis": null}, "y": {"field": "v", "type": "quantitative", "scale": {"domain": [0, 1], "range": [64, 42]}, "axis": null}}},
     {"data": {"name": "c_SOX11_iMT"}, "mark": {"type": "area", "color": "#E0302B"}, "encoding": {"x": {"field": "f", "type": "quantitative", "scale": {"domain": [0, 1], "range": [-3, 96]}, "axis": null}, "y": {"field": "v", "type": "quantitative", "scale": {"domain": [0, 1], "range": [93, 71]}, "axis": null}}},
     {"data": {"name": "c_RGR_oLT"}, "mark": {"type": "area", "color": "#3B7DC4"}, "encoding": {"x": {"field": "f", "type": "quantitative", "scale": {"domain": [0, 1], "range": [106, 205]}, "axis": null}, "y": {"field": "v", "type": "quantitative", "scale": {"domain": [0, 1], "range": [64, 42]}, "axis": null}}},
     {"data": {"name": "c_RGR_iMT"}, "mark": {"type": "area", "color": "#E0302B"}, "encoding": {"x": {"field": "f", "type": "quantitative", "scale": {"domain": [0, 1], "range": [106, 205]}, "axis": null}, "y": {"field": "v", "type": "quantitative", "scale": {"domain": [0, 1], "range": [93, 71]}, "axis": null}}},
     {"data": {"name": "c_GAPDH_oLT"}, "mark": {"type": "area", "color": "#3B7DC4"}, "encoding": {"x": {"field": "f", "type": "quantitative", "scale": {"domain": [0, 1], "range": [215, 314]}, "axis": null}, "y": {"field": "v", "type": "quantitative", "scale": {"domain": [0, 1], "range": [64, 42]}, "axis": null}}},
     {"data": {"name": "c_GAPDH_iMT"}, "mark": {"type": "area", "color": "#E0302B"}, "encoding": {"x": {"field": "f", "type": "quantitative", "scale": {"domain": [0, 1], "range": [215, 314]}, "axis": null}, "y": {"field": "v", "type": "quantitative", "scale": {"domain": [0, 1], "range": [93, 71]}, "axis": null}}},
     {"data": {"name": "c_EVC_oLT"}, "mark": {"type": "area", "color": "#3B7DC4"}, "encoding": {"x": {"field": "f", "type": "quantitative", "scale": {"domain": [0, 1], "range": [-3, 96]}, "axis": null}, "y": {"field": "v", "type": "quantitative", "scale": {"domain": [0, 1], "range": [179, 157]}, "axis": null}}},
     {"data": {"name": "c_EVC_iMT"}, "mark": {"type": "area", "color": "#E0302B"}, "encoding": {"x": {"field": "f", "type": "quantitative", "scale": {"domain": [0, 1], "range": [-3, 96]}, "axis": null}, "y": {"field": "v", "type": "quantitative", "scale": {"domain": [0, 1], "range": [208, 186]}, "axis": null}}},
     {"data": {"name": "c_CD209_oLT"}, "mark": {"type": "area", "color": "#3B7DC4"}, "encoding": {"x": {"field": "f", "type": "quantitative", "scale": {"domain": [0, 1], "range": [106, 205]}, "axis": null}, "y": {"field": "v", "type": "quantitative", "scale": {"domain": [0, 1], "range": [179, 157]}, "axis": null}}},
     {"data": {"name": "c_CD209_iMT"}, "mark": {"type": "area", "color": "#E0302B"}, "encoding": {"x": {"field": "f", "type": "quantitative", "scale": {"domain": [0, 1], "range": [106, 205]}, "axis": null}, "y": {"field": "v", "type": "quantitative", "scale": {"domain": [0, 1], "range": [208, 186]}, "axis": null}}},
     {"data": {"name": "c_ZMIZ1_oLT"}, "mark": {"type": "area", "color": "#3B7DC4"}, "encoding": {"x": {"field": "f", "type": "quantitative", "scale": {"domain": [0, 1], "range": [215, 314]}, "axis": null}, "y": {"field": "v", "type": "quantitative", "scale": {"domain": [0, 1], "range": [179, 157]}, "axis": null}}},
     {"data": {"name": "c_ZMIZ1_iMT"}, "mark": {"type": "area", "color": "#E0302B"}, "encoding": {"x": {"field": "f", "type": "quantitative", "scale": {"domain": [0, 1], "range": [215, 314]}, "axis": null}, "y": {"field": "v", "type": "quantitative", "scale": {"domain": [0, 1], "range": [208, 186]}, "axis": null}}},
     {
      "data": {"name": "minis"},
      "layer": [
       {"mark": {"type": "point", "size": 9801, "filled": true, "color": "#111", "stroke": "#111", "strokeWidth": 0.6, "opacity": 1},
        "encoding": {
         "x": {"field": "col", "type": "nominal", "scale": {"type": "band", "domain": [1, 2, 3], "range": [-3, 314], "paddingInner": 0.0917, "paddingOuter": 0}, "axis": null},
         "y": {"field": "row", "type": "nominal", "bandPosition": 0.234, "scale": {"type": "band", "domain": ["Promoters", "Enhancers"], "range": [0, 226], "paddingInner": 0.0348, "paddingOuter": 0}, "axis": null},
         "shape": {"field": "gene", "type": "nominal", "scale": {"domain": ["SOX11", "RGR", "GAPDH", "EVC", "CD209", "ZMIZ1-AS1"], "range": [
          "M0,-0.101H0.51V0.101H0Z M0.51,-0.0606H1V0.0606H0.51Z",
          "M0.09,-0.101H0.2V0.101H0.09Z M0.2,-0.012H1V0.012H0.2Z M0.39,-0.04H0.41V0.04H0.39Z M0.79,-0.04H0.81V0.04H0.79Z",
          "M-0.06,-0.09H0.24V0.09H-0.06Z M0.24,-0.012H1V0.012H0.24Z M0.52,-0.09H0.68V0.09H0.52Z M0.27,-0.05H0.29V0.05H0.27Z M0.41,-0.05H0.43V0.05H0.41Z M0.86,-0.05H0.88V0.05H0.86Z",
          "M-1,-0.02H1V0.02H-1Z M-0.75,-0.05H-0.73V0.05H-0.75Z M-0.37,-0.05H-0.35V0.05H-0.37Z M0.09,-0.05H0.11V0.05H0.09Z M0.47,-0.05H0.49V0.05H0.47Z M0.93,-0.05H0.95V0.05H0.93Z",
          "M0.354,-0.101H1V0.101H0.354Z",
          "M-0.94,-0.012H1V0.012H-0.94Z M-0.75,-0.05H-0.73V0.05H-0.75Z M-0.63,-0.05H-0.61V0.05H-0.63Z M-0.39,-0.05H-0.37V0.05H-0.39Z M-0.29,-0.05H-0.27V0.05H-0.29Z M0.05,-0.05H0.07V0.05H0.05Z M0.19,-0.05H0.21V0.05H0.19Z M0.45,-0.05H0.47V0.05H0.45Z"
         ]}, "legend": null}}},
       {"mark": {"type": "text", "align": "left", "baseline": "middle", "fontSize": 7.6, "dx": 1, "color": "#222"},
        "encoding": {"x": {"field": "col", "type": "nominal", "bandPosition": 0}, "y": {"field": "row", "type": "nominal", "bandPosition": 0.099}, "text": {"field": "title"}}},
       {"transform": [{"filter": {"field": "gene", "oneOf": ["SOX11", "RGR"]}}],
        "mark": {"type": "text", "align": "right", "baseline": "middle", "fontSize": 8, "fontStyle": "italic", "color": "#222"},
        "encoding": {"x": {"field": "col", "type": "nominal", "bandPosition": 0.78}, "y": {"field": "row", "type": "nominal", "bandPosition": 0.342}, "text": {"field": "gene"}}},
       {"transform": [{"filter": {"field": "gene", "oneOf": ["GAPDH", "EVC", "CD209"]}}],
        "mark": {"type": "text", "align": "right", "baseline": "middle", "fontSize": 8, "fontStyle": "italic", "color": "#222"},
        "encoding": {"x": {"field": "col", "type": "nominal", "bandPosition": 0.88}, "y": {"field": "row", "type": "nominal", "bandPosition": 0.342}, "text": {"field": "gene"}}},
       {"transform": [{"filter": {"field": "gene", "oneOf": ["ZMIZ1-AS1"]}}],
        "mark": {"type": "text", "align": "right", "baseline": "middle", "fontSize": 8, "fontStyle": "italic", "color": "#222"},
        "encoding": {"x": {"field": "col", "type": "nominal", "bandPosition": 0.96}, "y": {"field": "row", "type": "nominal", "bandPosition": 0.342}, "text": {"field": "gene"}}},
       {"mark": {"type": "text", "align": "left", "baseline": "middle", "fontSize": 5.6, "dx": 3, "color": "#333"},
        "encoding": {"x": {"field": "col", "type": "nominal", "bandPosition": 0}, "y": {"field": "row", "type": "nominal", "bandPosition": 0.396}, "text": {"field": "rng"}}},
       {"mark": {"type": "text", "align": "left", "baseline": "middle", "fontSize": 5.6, "dx": 3, "color": "#333"},
        "encoding": {"x": {"field": "col", "type": "nominal", "bandPosition": 0}, "y": {"field": "row", "type": "nominal", "bandPosition": 0.64}, "text": {"field": "rng"}}},
       {"mark": {"type": "text", "align": "center", "baseline": "middle", "fontSize": 8.5, "fontWeight": "bold", "color": "#111"},
        "encoding": {"x": {"field": "col", "type": "nominal", "bandPosition": 0.5}, "y": {"field": "row", "type": "nominal", "bandPosition": 0.9144}, "text": {"field": "bp"}}},
       {"transform": [{"filter": "datum.col == 1"}],
        "mark": {"type": "text", "align": "center", "baseline": "middle", "fontSize": 10, "angle": 270, "dy": -20},
        "encoding": {"x": {"field": "col", "type": "nominal", "bandPosition": 0}, "y": {"field": "row", "type": "nominal", "bandPosition": 0.5}, "text": {"field": "row"},
         "color": {"field": "row", "type": "nominal", "scale": {"domain": ["Promoters", "Enhancers"], "range": ["#5DB63C", "#A653C6"]}, "legend": null}}}
      ]
     }
    ]
   },
   {
    "width": 320, "height": 261,
    "title": {"text": "e", "dx": -26, "dy": 19},
    "resolve": {"scale": {"x": "independent", "y": "independent"}},
    "layer": [
     {
      "layer": [
       {"data": {"values": [{}]}, "mark": {"type": "rect", "color": "#E4E4E4"},
        "encoding": {
         "x": {"datum": 0.5, "type": "quantitative", "scale": {"domain": [0.5, 125.5], "nice": false, "zero": false}, "axis": null},
         "x2": {"datum": 10.5},
         "y": {"datum": 3.006, "type": "quantitative", "scale": {"domain": [0.2, 3.343], "nice": false, "zero": false}, "axis": {"values": [1, 2, 3], "format": "d", "title": ["Enrichment of cell type-spcific", "enhancer (odds ratio)"], "titleLineHeight": 16, "titleFontSize": 10.5, "minExtent": 12, "maxExtent": 12, "titlePadding": 5}},
         "y2": {"datum": 3.275}}},
       {"data": {"values": [{"i": 10.5, "top": 3.04, "bot": 3.0}, {"i": 65.3, "top": 3.078, "bot": 2.946}]}, "mark": {"type": "area", "color": "#E4E4E4"},
        "encoding": {"x": {"field": "i", "type": "quantitative"}, "y": {"field": "top", "type": "quantitative"}, "y2": {"field": "bot"}}},
       {"data": {"values": [{}]}, "mark": {"type": "rect", "color": "#E4E4E4"},
        "encoding": {"x": {"datum": 65.3, "type": "quantitative"}, "x2": {"datum": 124.0}, "y": {"datum": 1.585, "type": "quantitative"}, "y2": {"datum": 3.21}}},
       {"data": {"name": "perm"}, "mark": {"type": "rule", "color": "#A8A8A8", "strokeWidth": 0.7},
        "encoding": {"x": {"field": "i", "type": "quantitative"}, "y": {"field": "lo", "type": "quantitative"}, "y2": {"field": "hi"}}},
       {"data": {"name": "perm"}, "mark": {"type": "tick", "color": "#A8A8A8", "size": 2.5, "thickness": 0.7, "orient": "horizontal", "opacity": 1},
        "encoding": {"x": {"field": "i", "type": "quantitative"}, "y": {"field": "lo", "type": "quantitative"}}},
       {"data": {"name": "perm"}, "mark": {"type": "tick", "color": "#A8A8A8", "size": 2.5, "thickness": 0.7, "orient": "horizontal", "opacity": 1},
        "encoding": {"x": {"field": "i", "type": "quantitative"}, "y": {"field": "hi", "type": "quantitative"}}},
       {"data": {"name": "perm"}, "mark": {"type": "point", "size": 6, "filled": true, "opacity": 1},
        "encoding": {"x": {"field": "i", "type": "quantitative"}, "y": {"field": "or", "type": "quantitative"},
         "color": {"datum": "Permutated peaks", "type": "nominal", "scale": {"domain": ["Differential peaks", "Permutated peaks"], "range": ["#000000", "#9E9E9E"]}, "legend": {"title": null, "orient": "bottom-left", "offset": 0, "labelFontSize": 10.5, "symbolSize": 14, "rowPadding": 0, "padding": 1, "labelOffset": 6}},
         "shape": {"datum": "Permutated peaks", "type": "nominal", "scale": {"domain": ["Differential peaks", "Permutated peaks"], "range": ["circle", "square"]}, "legend": {"title": null, "orient": "bottom-left", "offset": 0, "labelFontSize": 10.5, "symbolSize": 14, "rowPadding": 0, "padding": 1, "labelOffset": 6}}}},
       {"data": {"name": "diff"}, "transform": [{"filter": "isValid(datum.lo)"}], "mark": {"type": "rule", "color": "#111", "strokeWidth": 0.8},
        "encoding": {"x": {"field": "i", "type": "quantitative"}, "y": {"field": "lo", "type": "quantitative"}, "y2": {"field": "hi"}}},
       {"data": {"name": "diff"}, "transform": [{"filter": "isValid(datum.lo)"}], "mark": {"type": "tick", "color": "#111", "size": 3, "thickness": 0.8, "orient": "horizontal", "opacity": 1},
        "encoding": {"x": {"field": "i", "type": "quantitative"}, "y": {"field": "lo", "type": "quantitative"}}},
       {"data": {"name": "diff"}, "transform": [{"filter": "isValid(datum.lo)"}], "mark": {"type": "tick", "color": "#111", "size": 3, "thickness": 0.8, "orient": "horizontal", "opacity": 1},
        "encoding": {"x": {"field": "i", "type": "quantitative"}, "y": {"field": "hi", "type": "quantitative"}}},
       {"data": {"name": "diff"}, "mark": {"type": "point", "size": 7, "filled": true, "opacity": 1},
        "encoding": {"x": {"field": "i", "type": "quantitative"}, "y": {"field": "or", "type": "quantitative"},
         "color": {"datum": "Differential peaks", "type": "nominal"},
         "shape": {"datum": "Differential peaks", "type": "nominal"}}},
       {"data": {"values": [{}]}, "mark": {"type": "text", "fontSize": 6.7, "fontWeight": "bold", "color": "#111", "baseline": "middle"},
        "encoding": {"x": {"datum": 93.5, "type": "quantitative"}, "y": {"datum": 3.265, "type": "quantitative"}, "text": {"value": "Top 10 enriched cell types"}}},
       {"data": {"values": [{}]}, "mark": {"type": "rule", "color": "#111", "strokeWidth": 1.3},
        "encoding": {"x": {"datum": 0.5, "type": "quantitative"}, "x2": {"datum": 48.5}, "y": {"datum": 0.042, "type": "quantitative"}}},
       {"data": {"values": [{}]}, "mark": {"type": "rule", "color": "#111", "strokeWidth": 1.3},
        "encoding": {"x": {"datum": 76.8, "type": "quantitative"}, "x2": {"datum": 125.5}, "y": {"datum": 0.042, "type": "quantitative"}}},
       {"data": {"values": [{}]}, "mark": {"type": "point", "shape": "M0,0L2,-0.8L2,0.8Z", "size": 16, "filled": true, "color": "#111", "opacity": 1},
        "encoding": {"x": {"datum": 0.5, "type": "quantitative"}, "y": {"datum": 0.042, "type": "quantitative"}}},
       {"data": {"values": [{}]}, "mark": {"type": "point", "shape": "M0,0L-2,-0.8L-2,0.8Z", "size": 16, "filled": true, "color": "#111", "opacity": 1},
        "encoding": {"x": {"datum": 125.5, "type": "quantitative"}, "y": {"datum": 0.042, "type": "quantitative"}}},
       {"data": {"values": [{}]}, "mark": {"type": "text", "fontSize": 12, "color": "#111", "baseline": "middle"},
        "encoding": {"x": {"datum": 62.6, "type": "quantitative"}, "y": {"datum": 0.042, "type": "quantitative"}, "text": {"value": "125 cell types"}}}
      ]
     },
     {
      "data": {"name": "top10"},
      "layer": [
       {"mark": {"type": "rule", "color": "#111", "strokeWidth": 1.1},
        "encoding": {
         "x": {"field": "rank", "type": "quantitative", "scale": {"domain": [1, 10], "range": [171, 244.3]}, "axis": null},
         "y": {"field": "lo", "type": "quantitative", "scale": {"domain": [3.06, 3.2], "range": [138, 19.7], "nice": false, "zero": false}, "axis": null},
         "y2": {"field": "hi"}}},
       {"mark": {"type": "tick", "color": "#111", "size": 8, "thickness": 1.1, "orient": "horizontal", "opacity": 1},
        "encoding": {"x": {"field": "rank", "type": "quantitative"}, "y": {"field": "lo", "type": "quantitative"}}},
       {"mark": {"type": "tick", "color": "#111", "size": 8, "thickness": 1.1, "orient": "horizontal", "opacity": 1},
        "encoding": {"x": {"field": "rank", "type": "quantitative"}, "y": {"field": "hi", "type": "quantitative"}}},
       {"mark": {"type": "point", "size": 40, "filled": true, "color": "#000", "opacity": 1},
        "encoding": {"x": {"field": "rank", "type": "quantitative"}, "y": {"field": "or", "type": "quantitative"}}},
       {"transform": [{"filter": {"field": "rank", "oneOf": [1, 2, 3]}}],
        "mark": {"type": "text", "align": "left", "baseline": "middle", "fontSize": 6.7, "dx": 8, "dy": -3, "color": "#222"},
        "encoding": {"x": {"field": "rank", "type": "quantitative"}, "y": {"field": "or", "type": "quantitative"}, "text": {"field": "cell"}}},
       {"transform": [{"filter": {"field": "rank", "oneOf": [4]}}],
        "mark": {"type": "text", "align": "left", "baseline": "middle", "fontSize": 6.9, "fontWeight": "bold", "dx": 16, "dy": -4, "color": "#111"},
        "encoding": {"x": {"field": "rank", "type": "quantitative"}, "y": {"field": "or", "type": "quantitative"}, "text": {"field": "cell"}}},
       {"transform": [{"filter": {"field": "rank", "oneOf": [5]}}],
        "mark": {"type": "text", "align": "left", "baseline": "middle", "fontSize": 6.9, "fontWeight": "bold", "dx": 20, "dy": -1, "color": "#111"},
        "encoding": {"x": {"field": "rank", "type": "quantitative"}, "y": {"field": "or", "type": "quantitative"}, "text": {"field": "cell"}}},
       {"transform": [{"filter": {"field": "rank", "oneOf": [6]}}],
        "mark": {"type": "text", "align": "left", "baseline": "middle", "fontSize": 6.9, "fontWeight": "bold", "dx": 18, "dy": -7, "color": "#111"},
        "encoding": {"x": {"field": "rank", "type": "quantitative"}, "y": {"field": "or", "type": "quantitative"}, "text": {"field": "cell"}}},
       {"transform": [{"filter": {"field": "rank", "oneOf": [7]}}],
        "mark": {"type": "text", "align": "left", "baseline": "middle", "fontSize": 6.7, "dx": 17, "dy": -1, "color": "#222"},
        "encoding": {"x": {"field": "rank", "type": "quantitative"}, "y": {"field": "or", "type": "quantitative"}, "text": {"field": "cell"}}},
       {"transform": [{"filter": {"field": "rank", "oneOf": [8]}}],
        "mark": {"type": "text", "align": "left", "baseline": "top", "fontSize": 6.7, "dx": 15, "dy": -2, "lineBreak": "\n", "lineHeight": 8.5, "color": "#222"},
        "encoding": {"x": {"field": "rank", "type": "quantitative"}, "y": {"field": "or", "type": "quantitative"}, "text": {"field": "cell"}}},
       {"transform": [{"filter": {"field": "rank", "oneOf": [9]}}],
        "mark": {"type": "text", "align": "left", "baseline": "middle", "fontSize": 6.7, "dx": 12, "dy": -4, "color": "#222"},
        "encoding": {"x": {"field": "rank", "type": "quantitative"}, "y": {"field": "or", "type": "quantitative"}, "text": {"field": "cell"}}},
       {"transform": [{"filter": {"field": "rank", "oneOf": [10]}}],
        "mark": {"type": "text", "align": "left", "baseline": "middle", "fontSize": 6.7, "dx": 9, "dy": 1, "color": "#222"},
        "encoding": {"x": {"field": "rank", "type": "quantitative"}, "y": {"field": "or", "type": "quantitative"}, "text": {"field": "cell"}}}
      ]
     }
    ]
   }
  ]
 }
]
}
